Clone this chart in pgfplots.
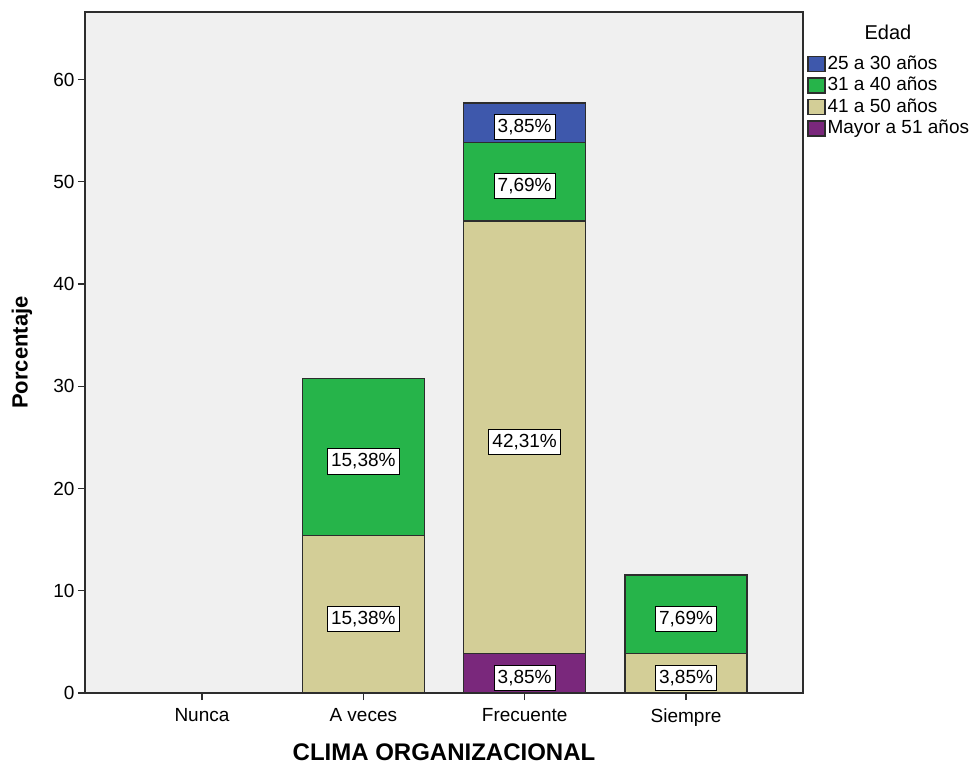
\documentclass[border=0pt]{standalone}
\usepackage{pgfplots}
\pgfplotsset{compat=1.18}
\usepackage{fontspec}
\setmainfont{Liberation Sans}

\definecolor{c25}{RGB}{62,88,172}
\definecolor{c31}{RGB}{38,180,74}
\definecolor{c41}{RGB}{211,206,151}
\definecolor{c51}{RGB}{122,40,124}
\definecolor{plotbg}{RGB}{240,240,240}
\definecolor{edge}{RGB}{45,45,45}

\newcommand\basefont{\fontsize{19}{22}\selectfont}
% boxed percentage label, suppressed for empty segments
\newcommand\seglabel[1]{%
  \pgfmathfloatparsenumber{#1}%
  \pgfmathfloatifflags{\pgfmathresult}{0}{}{%
    \setlength{\fboxsep}{3pt}\setlength{\fboxrule}{1pt}%
    \fcolorbox{black}{white}{\rule[-4pt]{0pt}{18.5pt}\pgfmathprintnumber[fixed,fixed zerofill,precision=2,use comma,assume math mode=true]{#1}\%}}}

\pgfplotsset{
  boxlegend/.style={legend image code/.code={\draw[##1] (0pt,-7.5pt) rectangle (17pt,7.5pt);}},
}

\begin{document}
\begin{tikzpicture}
\path (-85pt,-71pt) rectangle (889pt,693pt);
\begin{axis}[
  scale only axis, width=718pt, height=681pt,
  xmin=-0.725, xmax=3.725, ymin=0, ymax=66.6,
  ybar stacked, bar width=0.756,
  axis background/.style={fill=plotbg},
  axis line style={edge, line width=1.2pt},
  xtick={0,1,2,3}, xticklabels={Nunca,A veces,Frecuente,Siempre},
  ytick={0,10,...,60},
  xtick pos=left, ytick pos=left,
  tick align=outside, major tick length=7pt,
  tick style={edge, line width=1.2pt},
  tick label style={font=\basefont},
  xticklabel style={yshift=-5pt},
  /pgf/number format/assume math mode=true,
  ylabel={Porcentaje},
  ylabel style={font=\bfseries\fontsize{22}{26}\selectfont, at={(axis description cs:-0.0877,0.5)}, anchor=center},
  xlabel={CLIMA ORGANIZACIONAL},
  xlabel style={font=\bfseries\fontsize{24}{28}\selectfont, at={(axis description cs:0.5,-0.0866)}, anchor=center},
  visualization depends on={rawy \as \rawy},
  nodes near coords={\seglabel{\rawy}},
  every node near coord/.append style={anchor=center, inner sep=0pt, font=\basefont, yshift=-4.5pt},
  reverse legend,
  legend cell align=left,
  legend style={at={(rel axis cs:1,1)}, anchor=north west, xshift=4pt, yshift=-43pt,
    draw=none, fill=none, inner sep=0pt, font=\basefont, row sep=3.5pt,
    nodes={text height=14pt, text depth=4pt, inner ysep=0pt, inner xsep=2pt}},
]
\addplot[fill=c51, draw=edge, line width=1.4pt, boxlegend] coordinates {(0,0) (1,0) (2,3.85) (3,0)};
\addlegendentry{Mayor a 51 años}
\addplot[fill=c41, draw=edge, line width=1.4pt, boxlegend] coordinates {(0,0) (1,15.38) (2,42.31) (3,3.85)};
\addlegendentry{41 a 50 años}
\addplot[fill=c31, draw=edge, line width=1.4pt, boxlegend] coordinates {(0,0) (1,15.38) (2,7.69) (3,7.69)};
\addlegendentry{31 a 40 años}
\addplot[fill=c25, draw=edge, line width=1.4pt, boxlegend] coordinates {(0,0) (1,0) (2,3.85) (3,0)};
\addlegendentry{25 a 30 años}
\end{axis}
\node[font=\fontsize{20}{24}\selectfont] at (803pt,661pt) {Edad};
\end{tikzpicture}
\end{document}
